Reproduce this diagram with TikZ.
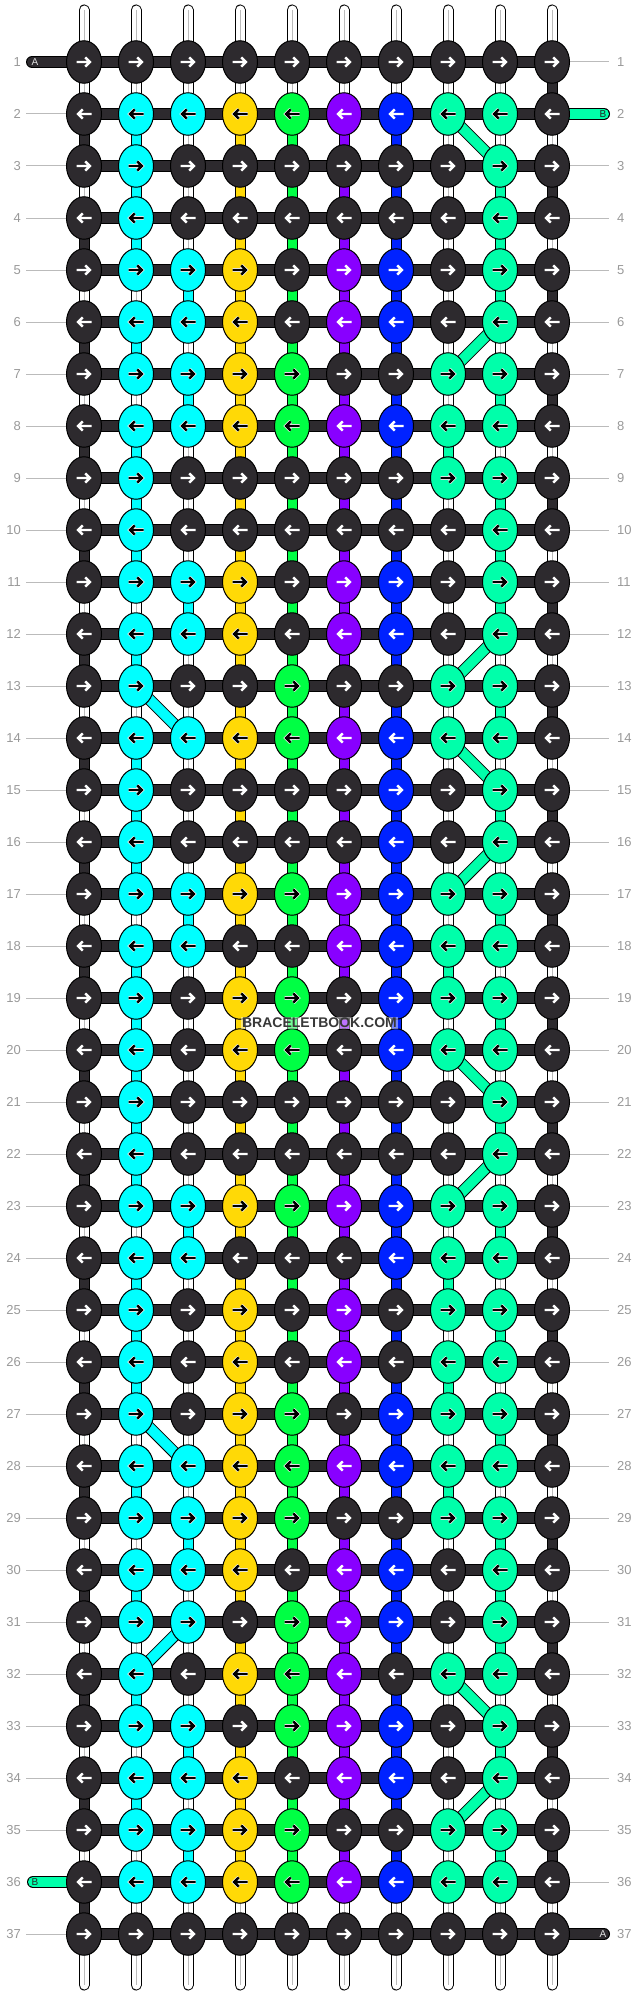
\documentclass[tikz,border=0pt]{standalone}
\usepackage{fontspec}
\usepackage{xstring}
\setmainfont{Liberation Sans}
\usetikzlibrary{shapes.geometric,backgrounds}
\definecolor{cD}{HTML}{2D2A2E}
\definecolor{cC}{HTML}{00FFFF}
\definecolor{cY}{HTML}{FFD906}
\definecolor{cG}{HTML}{00FF44}
\definecolor{cP}{HTML}{8800FF}
\definecolor{cB}{HTML}{0022FF}
\definecolor{cT}{HTML}{00FFAA}
\definecolor{cW}{HTML}{FFFFFF}
\definecolor{cLab}{HTML}{999999}
\definecolor{cRule}{HTML}{BBBBBB}
\tikzset{
  bead/.style={ellipse,draw=black,line width=1pt,minimum width=35pt,minimum height=42.5pt,inner sep=0pt,outer sep=0pt},
  beadD/.style={bead,fill=cD}, beadC/.style={bead,fill=cC}, beadY/.style={bead,fill=cY},
  beadG/.style={bead,fill=cG}, beadP/.style={bead,fill=cP}, beadB/.style={bead,fill=cB}, beadT/.style={bead,fill=cT},
  lightarrow/.style={draw=white,line width=2.4pt},
  darkarrow/.style={draw=black,line width=2.4pt,preaction={draw=white,line width=3.8pt}},
  arrowD/.style={lightarrow}, arrowP/.style={lightarrow}, arrowB/.style={lightarrow},
  arrowC/.style={darkarrow}, arrowY/.style={darkarrow}, arrowG/.style={darkarrow}, arrowT/.style={darkarrow},
  vstrand/.style={draw=#1,line width=9pt,preaction={draw=black,line width=11pt}},
  endstrand/.style={draw=white,line width=9pt,line cap=round,preaction={draw=black,line width=11pt,line cap=round}},
  hstrand/.style={draw=cD,line width=10pt,preaction={draw=black,line width=12pt}},
  dstrand/.style={draw=#1,line width=10pt,preaction={draw=black,line width=12pt}},
  tailstrand/.style={draw=#1,line width=10pt,line cap=round,preaction={draw=black,line width=12pt,line cap=round}},
  core/.style={draw=cRule,line width=1pt},
  rowrule/.style={draw=cRule,line width=1pt},
  rowlabel/.style={text=cLab,inner sep=0pt,font=\fontsize{13}{13}\selectfont},
  taillabel/.style={inner sep=0pt,font=\fontsize{10}{10}\selectfont},
  watermark/.style={fill=white,fill opacity=.45,text opacity=1,text=black!78,inner sep=1pt,font=\bfseries\fontsize{14}{14}\selectfont}
}
\begin{document}
\begin{tikzpicture}[x=1pt,y=-1pt]
\useasboundingbox (0,0) rectangle (636,1996);
% beads
\foreach \r/\row in {
 1/DDDDDDDDDD, 2/DCCYGPBTTD, 3/DCDDDDDDTD, 4/DCDDDDDDTD, 5/DCCYDPBDTD, 6/DCCYDPBDTD,
 7/DCCYGDDTTD, 8/DCCYGPBTTD, 9/DCDDDDDTTD,10/DCDDDDDDTD,11/DCCYDPBDTD,12/DCCYDPBDTD,
13/DCDDGDDTTD,14/DCCYGPBTTD,15/DCDDDDBDTD,16/DCDDDDBDTD,17/DCCYGPBTTD,18/DCCDDPBTTD,
19/DCDYGDBTTD,20/DCDYGDBTTD,21/DCDDDDDDTD,22/DCDDDDDDTD,23/DCCYGPBTTD,24/DCCDDDBTTD,
25/DCDYDPDTTD,26/DCDYDPDTTD,27/DCDYGDBTTD,28/DCCYGPBTTD,29/DCCYGDDTTD,30/DCCYDPBDTD,
31/DCCDGPBDTD,32/DCDYGPDTTD,33/DCCDGPBDTD,34/DCCYDPBDTD,35/DCCYGDDTTD,36/DCCYGPBTTD,
37/DDDDDDDDDD}{
  \foreach \c in {1,...,10}{
    \StrChar{\row}{\c}[\k]
    \pgfmathsetmacro{\px}{84+52*(\c-1)}
    \pgfmathsetmacro{\py}{62+52*(\r-1)}
    \node[bead\k] (n-\r-\c) at (\px,\py) {};
    \ifodd\r\def\dir{1}\else\def\dir{-1}\fi
    \draw[arrow\k,shift={(n-\r-\c.center)},xscale=\dir] (-7.5,0)--(6,0) (1.2,-4.6)--(6,0)--(1.2,4.6);
  }
}
% free ends
\foreach \c in {1,...,10}{
  \pgfmathsetmacro{\px}{84+52*(\c-1)}
  \coordinate (top-\c) at (\px,10);
  \coordinate (bot-\c) at (\px,1985);
}
\coordinate (tailA1) at (32,62);
\coordinate (tailB2) at (604,114);
\coordinate (tailB36) at (33,1882);
\coordinate (tailA37) at (604,1934);
% row numbers and their rules
\foreach \r in {1,...,37}{
  \pgfmathsetmacro{\py}{62+52*(\r-1)}
  \node[rowlabel,anchor=east] (ll-\r) at (21,\py) {\r};
  \node[rowlabel,anchor=west] (lr-\r) at (617,\py) {\r};
  \coordinate (rl-\r) at (26,\py);
  \coordinate (rr-\r) at (609,\py);
}
\begin{scope}[on background layer]
  \foreach \r in {2,...,35,37}{ \draw[rowrule] (rl-\r) -- (n-\r-1.center); }
  \foreach \r in {1,3,4,...,36}{ \draw[rowrule] (n-\r-10.center) -- (rr-\r); }
  % vertical strands between rows
  \foreach \r/\row in {
   1/WWWWWWWWWD, 2/DCWYGPBWWW, 3/WCWYGPBWTD, 4/DCWYGPBWTW, 5/WWCYGPBWTD, 6/DCWYGPBWWW,
   7/WWCYGPBWTD, 8/DCWYGPBTWW, 9/WCWYGPBWTD,10/DCWYGPBWTW,11/WWCYGPBWTD,12/DCWYGPBWWW,
  13/WWWYGPBWTD,14/DCWYGPBWWW,15/WCWYGPBWTD,16/DCWYGPBWWW,17/WWCYGPBWTD,18/DCWYGPBTWW,
  19/WCWYGPBWTD,20/DCWYGPBWWW,21/WCWYGPBWTD,22/DCWYGPBWWW,23/WWCYGPBWTD,24/DCWYGPBTWW,
  25/WCWYGPBWTD,26/DCWYGPBTWW,27/WWWYGPBWTD,28/DCWYGPBTWW,29/WWCYGPBWTD,30/DCWYGPBWTW,
  31/WWWYGPBWTD,32/DCWYGPBWWW,33/WWCYGPBWTD,34/DCWYGPBWWW,35/WWCYGPBWTD,36/DWWWWWWWWW}{
    \pgfmathtruncatemacro{\nx}{\r+1}
    \foreach \c in {1,...,10}{
      \StrChar{\row}{\c}[\k]
      \draw[vstrand=c\k] (n-\r-\c.center) -- (n-\nx-\c.center);
      \IfStrEq{\k}{W}{\draw[core] (n-\r-\c.center) -- (n-\nx-\c.center);}{}
    }
  }
  % top and bottom ends
  \foreach \c in {1,...,10}{
    \draw[endstrand] (top-\c) -- (n-1-\c.center);
    \draw[core] (top-\c) -- (n-1-\c.center);
    \draw[endstrand] (n-37-\c.center) -- (bot-\c);
    \draw[core] (n-37-\c.center) -- (bot-\c);
  }
  % horizontal strands
  \foreach \r in {1,...,37}{
    \foreach \c [evaluate=\c as \d using int(\c+1)] in {1,...,9}{
      \draw[hstrand] (n-\r-\c.center) -- (n-\r-\d.center);
    }
  }
  % tails
  \draw[tailstrand=cD] (tailA1) -- (n-1-1.center);
  \draw[tailstrand=cT] (n-2-10.center) -- (tailB2);
  \draw[tailstrand=cT] (tailB36) -- (n-36-1.center);
  \draw[tailstrand=cD] (n-37-10.center) -- (tailA37);
  % diagonal strands
  \foreach \a/\b/\col in {n-2-8/n-3-9/cT,n-6-9/n-7-8/cT,n-12-9/n-13-8/cT,n-14-8/n-15-9/cT,n-16-9/n-17-8/cT,
    n-20-8/n-21-9/cT,n-22-9/n-23-8/cT,n-32-8/n-33-9/cT,n-34-9/n-35-8/cT,
    n-13-2/n-14-3/cC,n-27-2/n-28-3/cC,n-31-3/n-32-2/cC}{
    \draw[dstrand=\col] (\a.center) -- (\b.center);
  }
\end{scope}
% tail letters
\node[taillabel,text=white!88!black] (lblA1) at (35,62.5) {A};
\node[taillabel,text=black!85] (lblB2) at (603,114.5) {B};
\node[taillabel,text=black!85] (lblB36) at (35,1882.5) {B};
\node[taillabel,text=white!88!black] (lblA37) at (603,1934.5) {A};
% watermark
\node[watermark] (wm) at (319.5,1023) {BRACELETBOOK.COM};
\end{tikzpicture}
\end{document}
